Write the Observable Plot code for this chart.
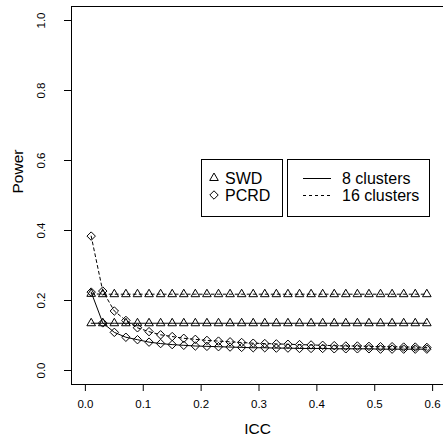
<!DOCTYPE html>
<html>
<head>
<meta charset="utf-8">
<script src="https://cdn.jsdelivr.net/npm/d3@7"></script>
<script src="https://cdn.jsdelivr.net/npm/@observablehq/plot@0.6"></script>
<style>
  html, body { margin: 0; padding: 0; background: white; }
  #chart { width: 443px; height: 445px; overflow: hidden; }
</style>
</head>
<body>
<div id="chart"></div>
<script>
const icc = [0.01,0.03,0.05,0.07,0.09,0.11,0.13,0.15,0.17,0.19,0.21,0.23,0.25,0.27,0.29,
             0.31,0.33,0.35,0.37,0.39,0.41,0.43,0.45,0.47,0.49,0.51,0.53,0.55,0.57,0.59];
const swd8  = [0.135,0.135,0.135,0.135,0.135,0.135,0.135,0.135,0.135,0.135,0.135,0.135,0.135,0.135,0.135,
               0.135,0.135,0.135,0.135,0.135,0.135,0.135,0.135,0.135,0.135,0.135,0.135,0.135,0.135,0.135];
const swd16 = [0.219,0.218,0.218,0.218,0.218,0.218,0.218,0.218,0.218,0.218,0.218,0.218,0.218,0.218,0.218,
               0.218,0.218,0.218,0.218,0.218,0.218,0.218,0.218,0.218,0.218,0.218,0.218,0.218,0.218,0.218];
const pcrd8  = [0.224,0.136,0.109,0.095,0.088,0.081,0.077,0.074,0.072,0.070,0.069,0.068,0.067,0.066,0.065,
                0.065,0.064,0.064,0.063,0.063,0.063,0.062,0.062,0.062,0.062,0.061,0.061,0.061,0.061,0.061];
const pcrd16 = [0.384,0.227,0.170,0.143,0.122,0.111,0.102,0.097,0.092,0.089,0.086,0.084,0.082,0.080,0.078,
                0.077,0.076,0.075,0.074,0.073,0.072,0.071,0.070,0.070,0.069,0.068,0.068,0.067,0.067,0.066];
const xTicks = [0, 0.1, 0.2, 0.3, 0.4, 0.5, 0.6];
const yTicks = [0, 0.2, 0.4, 0.6, 0.8, 1.0];
const designLabels = ["SWD", "PCRD"];
const clusterLabels = ["8 clusters", "16 clusters"];

const seriesDefs = [
  {design: "SWD", clusters: 8, values: swd8},
  {design: "SWD", clusters: 16, values: swd16},
  {design: "PCRD", clusters: 8, values: pcrd8},
  {design: "PCRD", clusters: 16, values: pcrd16}
];
const table = seriesDefs.flatMap(s => s.values.map((v, i) => ({
  icc: icc[i], power: v, design: s.design, clusters: s.clusters, key: s.design + s.clusters
})));

const FONT = "'Liberation Sans', Arial, Helvetica, sans-serif";
const XMIN = -0.024, XMAX = 0.624, YMIN = -0.04, YMAX = 1.04;
const R_TRI = 3.2, R_DIA = 3.8;

const plot = Plot.plot({
  width: 443,
  height: 445,
  marginLeft: 71,
  marginRight: 0,
  marginTop: 6,
  marginBottom: 61,
  style: {fontFamily: FONT, background: "white", color: "black", overflow: "visible"},
  x: {domain: [XMIN, XMAX], range: [71, 446]},
  y: {domain: [YMIN, YMAX]},
  marks: [
    Plot.ruleY([YMIN, YMAX], {stroke: "black", strokeWidth: 1}),
    Plot.ruleX([XMIN], {stroke: "black", strokeWidth: 1}),
    Plot.axisX({ticks: xTicks, tickSize: 7, tickPadding: 8, fontSize: 11.5,
                tickFormat: d3.format(".1f"), label: null, stroke: "black"}),
    Plot.axisY({ticks: yTicks, tickSize: 7, tickFormat: () => "", label: null, stroke: "black"}),
    Plot.text(yTicks, {x: XMIN, y: d => d, text: d => d3.format(".1f")(d), rotate: -90,
                       dx: -30, fontSize: 11.5, fill: "black"}),
    Plot.text(["ICC"], {frameAnchor: "bottom", dy: 49, fontSize: 15.5, fill: "black"}),
    Plot.text(["Power"], {frameAnchor: "left", dx: -53, dy: -2, rotate: -90, fontSize: 15.5, fill: "black"}),
    Plot.line(table.filter(d => d.clusters === 8), {x: "icc", y: "power", z: "key",
              stroke: "black", strokeWidth: 1}),
    Plot.line(table.filter(d => d.clusters === 16), {x: "icc", y: "power", z: "key",
              stroke: "black", strokeWidth: 1, strokeDasharray: "3,3"}),
    Plot.dot(table.filter(d => d.design === "SWD"), {x: "icc", y: "power", symbol: "triangle",
              r: R_TRI, stroke: "black", fill: "none", strokeWidth: 1}),
    Plot.dot(table.filter(d => d.design === "PCRD"), {x: "icc", y: "power", symbol: "diamond2",
              r: R_DIA, stroke: "black", fill: "none", strokeWidth: 1})
  ]
});
document.getElementById("chart").appendChild(plot);

// Legend (drawn inside the SVG)
const svg = d3.select(plot);
const g = svg.append("g").attr("font-family", FONT).attr("font-size", 16)
  .attr("fill", "black").attr("text-anchor", "start");
g.append("rect").attr("x", 201.5).attr("y", 159.5).attr("width", 81).attr("height", 57)
  .attr("fill", "white").attr("stroke", "black");
g.append("rect").attr("x", 287.5).attr("y", 159.5).attr("width", 142).attr("height", 57)
  .attr("fill", "white").attr("stroke", "black");
const rowY = [178, 195];
const syms = [d3.symbolTriangle, d3.symbolDiamond2];
const symSize = [Math.PI * R_TRI * R_TRI, Math.PI * R_DIA * R_DIA];
designLabels.forEach((lab, i) => {
  g.append("path").attr("d", d3.symbol(syms[i], symSize[i])())
    .attr("transform", `translate(214,${rowY[i]})`)
    .attr("fill", "none").attr("stroke", "black");
  g.append("text").attr("x", 225).attr("y", rowY[i]).attr("dy", "0.35em")
    .attr("text-anchor", "start").text(lab);
});
clusterLabels.forEach((lab, i) => {
  g.append("line").attr("x1", 303).attr("x2", 331).attr("y1", rowY[i] + 0.5).attr("y2", rowY[i] + 0.5)
    .attr("stroke", "black").attr("stroke-dasharray", i === 1 ? "3,3" : null);
  g.append("text").attr("x", 342).attr("y", rowY[i]).attr("dy", "0.35em")
    .attr("text-anchor", "start").text(lab);
});
</script>
</body>
</html>
